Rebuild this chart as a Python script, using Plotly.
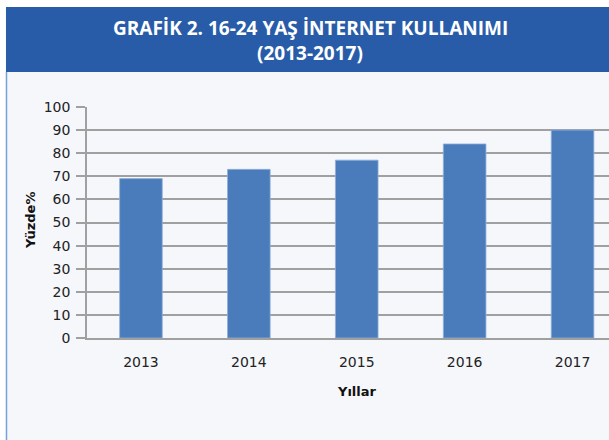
import plotly.graph_objects as go

years = ["2013", "2014", "2015", "2016", "2017"]
values = [69, 73, 77, 84, 90]
title_line1 = "GRAFİK 2. 16-24 YAŞ İNTERNET KULLANIMI"
title_line2 = "(2013-2017)"
x_title = "Yıllar"
y_title = "Yüzde%"

W, H = 609, 440
L, R, T, B = 87, 0, 107, 102
PW, PH = W - L - R, H - T - B


def px(x):
    return (x - L) / PW


def py(y):
    return (H - B - y) / PH


fig = go.Figure()
fig.add_trace(go.Bar(
    x=years, y=values, width=0.395,
    marker=dict(color="#4A7BBA", line=dict(color="#8FB0DA", width=0.8)),
    hoverinfo="x+y",
))

shapes = [
    dict(type="rect", xref="paper", yref="paper", x0=px(-5), x1=px(W + 5), y0=py(7), y1=py(-5),
         fillcolor="white", line=dict(width=0), layer="above"),
    dict(type="rect", xref="paper", yref="paper", x0=px(6), x1=px(W + 5), y0=py(72), y1=py(7),
         fillcolor="#285CA8", line=dict(width=0), layer="above"),
    dict(type="rect", xref="paper", yref="paper", x0=px(-5), x1=px(5.5), y0=py(H + 5), y1=py(-5),
         fillcolor="white", line=dict(width=0), layer="above"),
    dict(type="line", xref="paper", yref="paper", x0=px(6.5), x1=px(6.5), y0=py(H + 5), y1=py(72),
         line=dict(color="#7AA2DA", width=1.5), layer="above"),
]

annotations = [
    dict(text=title_line1, xref="paper", yref="paper", x=px(310), y=py(28), showarrow=False,
         xanchor="center", yanchor="middle",
         font=dict(family="Open Sans", size=19, color="white", weight="bold")),
    dict(text=title_line2, xref="paper", yref="paper", x=px(310), y=py(53), showarrow=False,
         xanchor="center", yanchor="middle",
         font=dict(family="Open Sans", size=19, color="white", weight="bold")),
    dict(text=x_title, xref="x", yref="paper", x=2, y=py(391), showarrow=False,
         xanchor="center", yanchor="middle",
         font=dict(family="DejaVu Sans", size=13, color="#111111", weight="bold")),
    dict(text=y_title, xref="paper", yref="paper", x=px(30), y=py(221), showarrow=False,
         textangle=-90, xanchor="center", yanchor="middle",
         font=dict(family="DejaVu Sans", size=13, color="#111111", weight="bold")),
]

fig.update_layout(
    width=W, height=H,
    margin=dict(l=L, r=R, t=T, b=B, pad=0),
    paper_bgcolor="#F5F7FB", plot_bgcolor="#F5F7FB",
    showlegend=False,
    shapes=shapes, annotations=annotations,
)
fig.update_xaxes(
    type="category", range=[-0.5, -0.5 + PW / 107.9],
    showgrid=False, showline=True, linecolor="#A0A0A0", linewidth=1.5,
    ticks="", ticklabelstandoff=10,
    tickfont=dict(family="DejaVu Sans", size=14, color="#222222"),
    fixedrange=True,
)
fig.update_yaxes(
    range=[0, 100], dtick=10, tick0=0,
    showgrid=True, gridcolor="#A0A0A0", gridwidth=1.5,
    showline=True, linecolor="#A0A0A0", linewidth=1.5,
    ticks="outside", ticklen=9, tickcolor="#A0A0A0", tickwidth=1.5,
    ticklabelstandoff=3,
    tickfont=dict(family="DejaVu Sans", size=14, color="#222222"),
    zeroline=False, fixedrange=True,
)

fig.write_html(
    "out.html",
    config={"displayModeBar": False},
    post_script="document.body.style.margin='0px';document.body.style.overflow='hidden';",
)
